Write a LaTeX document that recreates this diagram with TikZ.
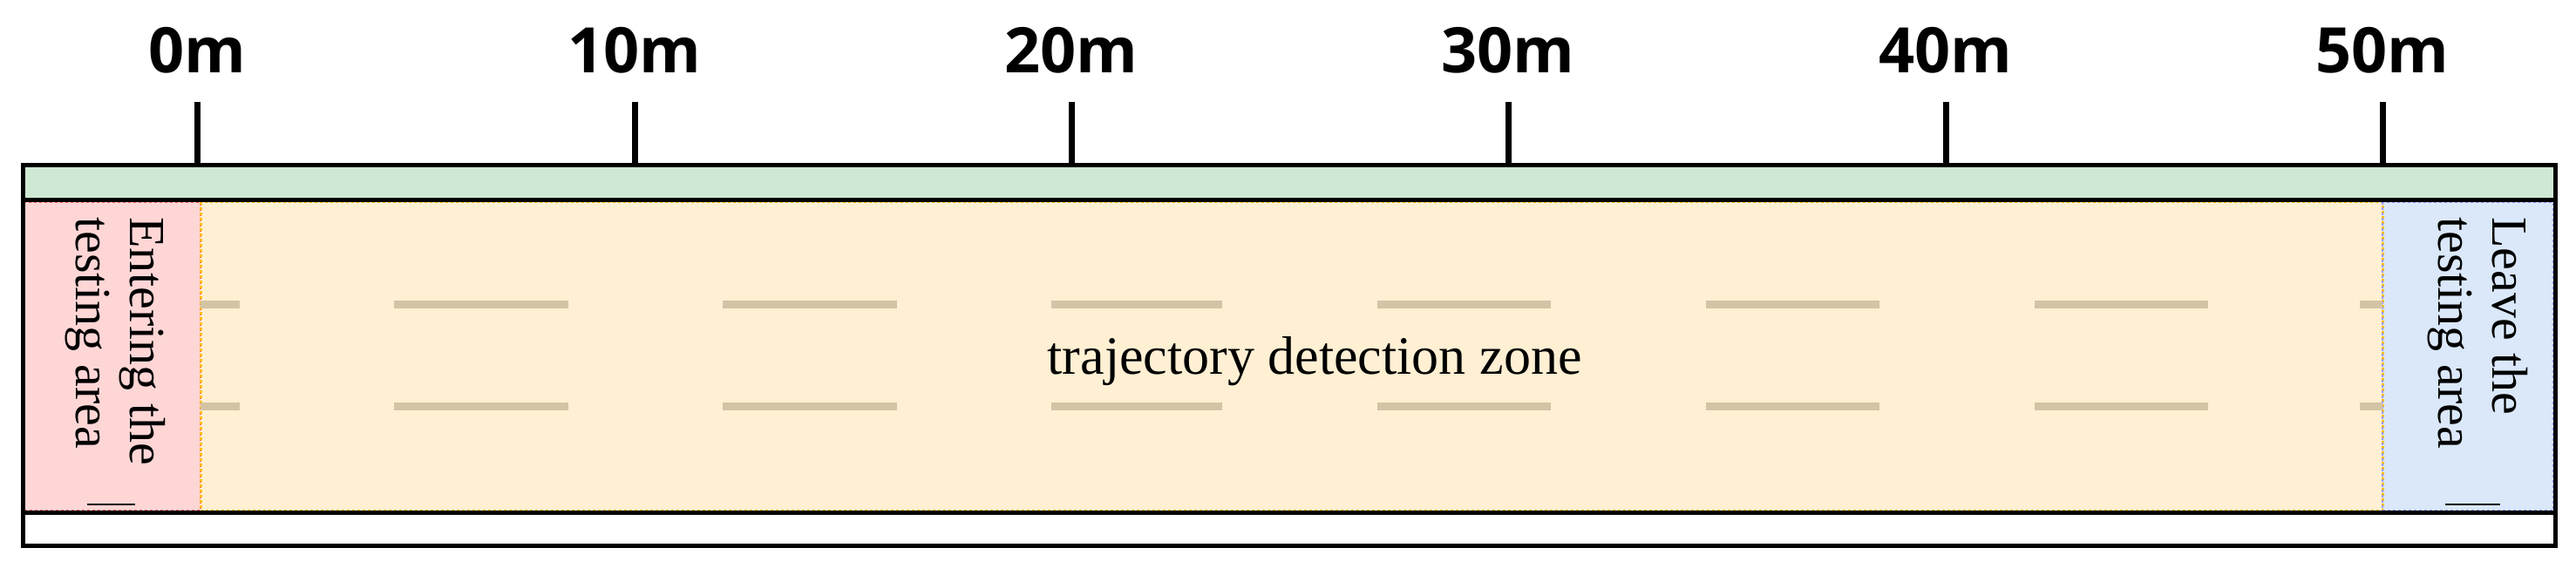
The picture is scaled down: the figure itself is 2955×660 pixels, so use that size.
\documentclass[tikz,border=0pt]{standalone}
\usepackage{fontspec}
\setmainfont{Liberation Serif}
\newfontfamily\lab{Open Sans}
\definecolor{grn}{HTML}{CFE8D3}
\definecolor{rd}{HTML}{FFD6D6}
\definecolor{yl}{HTML}{FFF0D4}
\definecolor{bl}{HTML}{DAE8FA}
\definecolor{tan}{HTML}{D2C4A4}
\begin{document}
\begin{tikzpicture}[x=1pt,y=-1pt,
  tick/.style={line width=7pt},
  mlab/.style={font=\lab\bfseries\fontsize{72}{72}\selectfont},
  lanemark/.style={tan,line width=9pt},
  ztext/.style={font=\fontsize{58}{62}\selectfont,rotate=-90,anchor=north west,align=left,inner sep=0pt}]
\useasboundingbox (0,0) rectangle (2955,660);
% zones
\fill[rd] (26,230) rectangle (230,588);
\fill[yl] (230,230) rectangle (2733,588);
\fill[bl] (2733,230) rectangle (2931,588);
\draw[red!60,dashed,line width=2pt] (28,232) rectangle (230,586);
\draw[orange!50!yellow,dashed,line width=3pt] (230,232) rectangle (2733,586);
\draw[blue!40,dashed,line width=2pt] (2733,232) rectangle (2929,586);
\fill[grn] (26,190) rectangle (2931,230);
% lane markings
\foreach \y in {349,466}{
  \foreach \a/\b in {230/275,452/652,829/1029,1206/1402,1580/1779,1957/2156,2334/2533,2707/2733}
    \draw[lanemark] (\a,\y) -- (\b,\y);
}
% frame
\draw[line width=5pt] (26,190) rectangle (2931,626);
\draw[line width=5pt] (26,230) -- (2931,230);
\draw[line width=5pt] (26,588) -- (2931,588);
% ticks
\foreach \x/\t [count=\i] in {226/0m,728/10m,1229/20m,1730/30m,2232/40m,2733/50m}{
  \coordinate (t\i) at (\x,117);
  \draw[tick] (t\i) -- (\x,190);
  \node[mlab] (l\i) at (\x,58) {\t};
}
\node[font=\fontsize{62}{66}\selectfont] (zone) at (1508,415) {trajectory detection zone};
\node[ztext] (enter) at (190,249) {Entering the\\testing area};
\node[ztext] (leave) at (2900,249) {Leave the\\testing area};
\draw[line width=2.5pt] (100,579) -- (155,579);
\draw[line width=2.5pt] (2805,579) -- (2868,579);
\end{tikzpicture}
\end{document}
